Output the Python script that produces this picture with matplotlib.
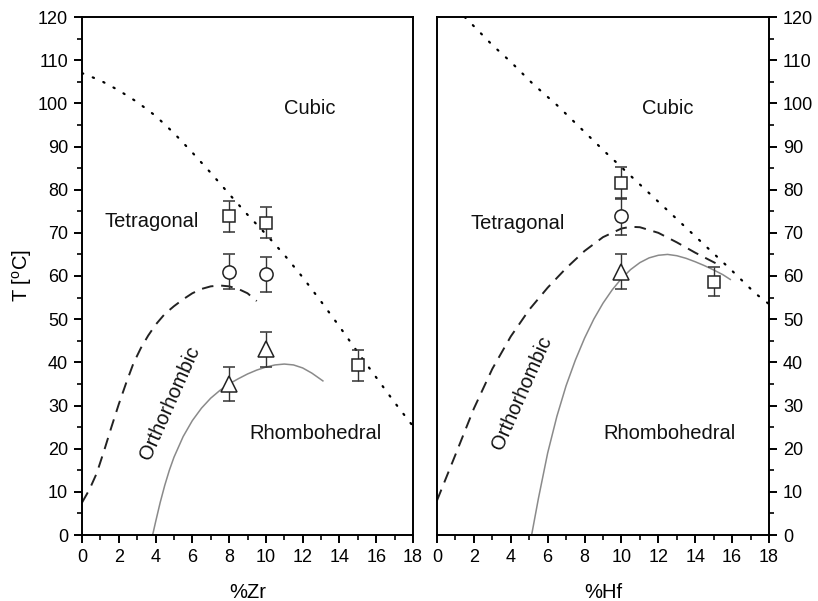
import matplotlib
matplotlib.use("Agg")
import matplotlib.pyplot as plt
from matplotlib.ticker import MultipleLocator

plt.rcParams['font.family'] = ['Liberation Sans', 'DejaVu Sans']

# ---- Zr panel ----
zr_cubic_x = [0, 1, 2, 3, 4, 5, 6, 7, 8, 9, 10, 11, 12, 13, 14, 15, 16, 17, 18]
zr_cubic_t = [107, 105.3, 103, 100.3, 97.1, 93.1, 88.6, 83.9, 79.0, 74.2, 69.7,
              64.9, 59.7, 54.1, 48.3, 42.3, 36.5, 30.7, 25.2]

zr_tet_x = [0, 0.4, 0.8, 1.2, 1.6, 2.0, 2.4, 2.8, 3.2, 3.6, 4.0, 4.5, 5.0, 5.5,
            6.0, 6.5, 7.0, 7.5, 8.0, 8.5, 9.0, 9.5]
zr_tet_t = [7.5, 10.5, 14.3, 19.5, 25.0, 30.3, 35.2, 39.8, 43.3, 46.2, 48.7, 51.2,
            53.0, 54.6, 56.0, 57.0, 57.6, 57.8, 57.6, 57.0, 56.0, 54.2]

zr_rho_x = [3.84, 4.0, 4.25, 4.5, 4.75, 5.0, 5.5, 6.0, 6.5, 7.0, 7.5, 8.0, 8.5,
            9.0, 9.5, 10.0, 10.5, 11.0, 11.5, 12.0, 12.5, 13.1]
zr_rho_t = [0, 3.0, 7.5, 11.5, 15.0, 18.0, 22.8, 26.5, 29.4, 31.7, 33.5, 35.0, 36.2,
            37.3, 38.2, 38.9, 39.4, 39.6, 39.4, 38.7, 37.5, 35.7]

zr_sq_x = [8, 10, 15]
zr_sq_t = [73.8, 72.3, 39.3]
zr_sq_err = [3.6, 3.6, 3.6]
zr_ci_x = [8, 10]
zr_ci_t = [61.0, 60.4]
zr_ci_err = [4.0, 4.0]
zr_tr_x = [8, 10]
zr_tr_t = [35.0, 43.0]
zr_tr_err = [4.0, 4.0]

# ---- Hf panel ----
hf_cubic_x = [1.5, 1.9, 3.0, 4.0, 5.2, 6.5, 7.8, 9.1, 10.5, 11.9, 13.3, 14.7, 16.0, 17.25, 18]
hf_cubic_t = [120, 118.3, 113.5, 109.6, 104.5, 99.6, 94.2, 88.8, 83.2, 77.6, 72.0,
              66.4, 61.2, 56.0, 53.5]

hf_tet_x = [0, 1, 2, 3, 4, 5, 6, 7, 8, 9, 10, 10.5, 11, 12, 13, 14, 15, 15.4]
hf_tet_t = [8.0, 18.6, 29.3, 38.5, 46.0, 52.2, 57.3, 61.8, 65.8, 69.0, 71.0, 71.4,
            71.3, 70.0, 67.8, 65.4, 63.2, 62.3]

hf_rho_x = [5.13, 5.5, 6.0, 6.5, 7.0, 7.5, 8.0, 8.5, 9.0, 9.5, 10.0, 10.5, 11.0,
            11.5, 12.0, 12.5, 13.0, 13.5, 14.0, 14.5, 15.0, 15.5, 15.9]
hf_rho_t = [0, 8.5, 19.0, 27.5, 34.6, 40.5, 45.6, 50.0, 53.7, 56.8, 59.4, 61.5, 63.1,
            64.2, 64.8, 65.0, 64.7, 64.1, 63.3, 62.4, 61.4, 60.3, 59.2]

hf_sq_x = [10, 15]
hf_sq_t = [81.6, 58.7]
hf_sq_err = [3.7, 3.3]
hf_ci_x = [10]
hf_ci_t = [73.8]
hf_ci_err = [4.2]
hf_tr_x = [10]
hf_tr_t = [61.0]
hf_tr_err = [4.0]

x_ticks = [0, 2, 4, 6, 8, 10, 12, 14, 16, 18]
y_ticks = [0, 10, 20, 30, 40, 50, 60, 70, 80, 90, 100, 110, 120]

phase_labels = ["Cubic", "Tetragonal", "Orthorhombic", "Rhombohedral"]

TICK_FS = 13
LABEL_FS = 14.5
W, H = 818, 601
fig = plt.figure(figsize=(W / 100, H / 100), dpi=100)
ax1 = fig.add_axes([82 / W, 1 - 535 / H, 331 / W, 518 / H])
ax2 = fig.add_axes([437 / W, 1 - 535 / H, 332 / W, 518 / H])


def draw_panel(ax, cx, ct, tx, tt, rx, rt, sq, ci, tr):
    ax.plot(cx, ct, color='black', lw=1.6, dashes=(0.6, 4.6),
            dash_capstyle='round')
    ax.plot(tx, tt, color='#222222', lw=1.4, dashes=(6, 4))
    ax.plot(rx, rt, color='#8a8a8a', lw=1.1)
    ek = dict(ecolor='#333333', elinewidth=1.0, capsize=4.2, capthick=1.0,
              linestyle='none', mfc='white', mec='#222222', mew=1.1, zorder=5)
    ax.errorbar(sq[0], sq[1], yerr=sq[2], marker='s', ms=8.5, **ek)
    ax.errorbar(ci[0], ci[1], yerr=ci[2], marker='o', ms=9.5, **ek)
    ax.errorbar(tr[0], tr[1], yerr=tr[2], marker='^', ms=11.5, **ek)
    ax.set_xlim(0, 18)
    ax.set_ylim(0, 120)
    ax.set_xticks(x_ticks)
    ax.set_yticks(y_ticks)
    ax.xaxis.set_minor_locator(MultipleLocator(1))
    ax.yaxis.set_minor_locator(MultipleLocator(5))
    for s in ax.spines.values():
        s.set_linewidth(1.4)
    ax.tick_params(which='major', direction='out', length=6, width=1.4,
                   labelsize=TICK_FS, pad=4)
    ax.tick_params(which='minor', direction='out', length=3.5, width=1.2)
    ax.tick_params(axis='x', which='both', top=False)


draw_panel(ax1, zr_cubic_x, zr_cubic_t, zr_tet_x, zr_tet_t, zr_rho_x, zr_rho_t,
           (zr_sq_x, zr_sq_t, zr_sq_err), (zr_ci_x, zr_ci_t, zr_ci_err),
           (zr_tr_x, zr_tr_t, zr_tr_err))
draw_panel(ax2, hf_cubic_x, hf_cubic_t, hf_tet_x, hf_tet_t, hf_rho_x, hf_rho_t,
           (hf_sq_x, hf_sq_t, hf_sq_err), (hf_ci_x, hf_ci_t, hf_ci_err),
           (hf_tr_x, hf_tr_t, hf_tr_err))

ax1.tick_params(axis='y', which='both', left=True, right=False)
ax2.tick_params(axis='y', which='both', left=False, right=True,
                labelleft=False, labelright=True)

ax1.set_xlabel("%Zr", fontsize=LABEL_FS, labelpad=12)
ax2.set_xlabel("%Hf", fontsize=LABEL_FS, labelpad=12)
ax1.set_ylabel("T [$^\\mathregular{o}$C]", fontsize=LABEL_FS, labelpad=3)

txt = dict(fontsize=LABEL_FS, ha='center', va='center', color='#111111')
ax1.text(12.4, 98.8, phase_labels[0], **txt)
ax1.text(3.8, 72.6, phase_labels[1], **txt)
ax1.text(4.8, 30.5, phase_labels[2], rotation=66, **txt)
ax1.text(12.7, 23.5, phase_labels[3], **txt)

ax2.text(12.5, 98.8, phase_labels[0], **txt)
ax2.text(4.4, 72.2, phase_labels[1], **txt)
ax2.text(4.6, 32.8, phase_labels[2], rotation=66, **txt)
ax2.text(12.6, 23.5, phase_labels[3], **txt)

fig.savefig("out.png", dpi=100)
